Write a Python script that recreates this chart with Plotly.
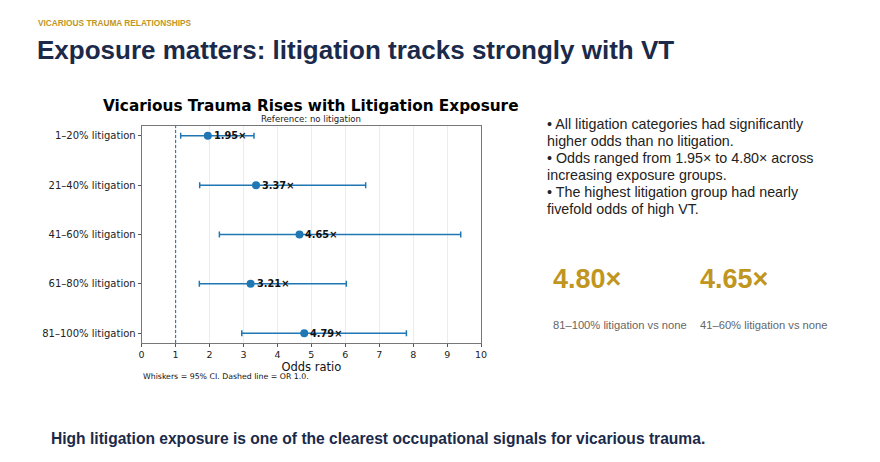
import plotly.graph_objects as go

# forest plot data
groups = ['1–20% litigation', '21–40% litigation', '41–60% litigation',
          '61–80% litigation', '81–100% litigation']
odds = [1.95, 3.37, 4.65, 3.21, 4.79]
ci_low = [1.15, 1.71, 2.29, 1.70, 2.95]
ci_high = [3.31, 6.60, 9.40, 6.03, 7.80]
x_ticks = list(range(0, 11))

bullets = [
    '• All litigation categories had significantly',
    'higher odds than no litigation.',
    '• Odds ranged from 1.95× to 4.80× across',
    'increasing exposure groups.',
    '• The highest litigation group had nearly',
    'fivefold odds of high VT.',
]
kpi_values = ['4.80×', '4.65×']
kpi_labels = ['81–100% litigation vs none', '41–60% litigation vs none']

NAVY = '#1b2a4a'
GOLD = '#c0961f'
BLUE = '#1f77b4'
MPL = 'DejaVu Sans'
ARIAL = 'Liberation Sans, Arial'

# page body adds an 8px margin, so the figure is a bit smaller than the window
W, H, OFF = 872, 454, 8


def px(x):
    return (x - OFF) / W


def py(y):
    return 1 - (y - OFF) / H


fig = go.Figure()

fig.add_trace(go.Scatter(
    x=odds, y=groups, mode='markers',
    marker=dict(color=BLUE, size=8),
    error_x=dict(type='data', symmetric=False,
                 array=[h - o for h, o in zip(ci_high, odds)],
                 arrayminus=[o - l for l, o in zip(ci_low, odds)],
                 color=BLUE, thickness=1.5, width=3),
    showlegend=False, cliponaxis=False,
))

# OR = 1 reference line
fig.add_vline(x=1, line_dash='3px,2px', line_color='#2f7bbf', line_width=1.2)

# value labels next to the points
for g, o in zip(groups, odds):
    fig.add_annotation(x=o, y=g, text=f'<b>{o:.2f}×</b>', showarrow=False,
                       xanchor='left', xshift=4,
                       font=dict(family=MPL, size=9.8, color='#111'))

fig.update_xaxes(
    domain=[px(140), px(483)], range=[0, 10], tickvals=x_ticks,
    showgrid=True, gridcolor='#ececec', gridwidth=1, zeroline=False,
    showline=True, linecolor='#777', mirror=True, linewidth=1,
    ticks='outside', ticklen=3, tickcolor='#555',
    tickfont=dict(family=MPL, size=9.5, color='#222'),
    title=dict(text='Odds ratio', font=dict(family=MPL, size=11.5, color='#111'), standoff=2),
)
fig.update_yaxes(
    domain=[py(343), py(126)], range=[4.2, -0.2],
    categoryorder='array', categoryarray=groups,
    showgrid=False, zeroline=False,
    showline=True, linecolor='#777', mirror=True, linewidth=1,
    ticks='outside', ticklen=3, tickcolor='#555',
    tickfont=dict(family=MPL, size=10, color='#222'),
)

# chart title / subtitle / footnote
fig.add_annotation(x=px(311), y=py(106), xref='paper', yref='paper',
                   text='<b>Vicarious Trauma Rises with Litigation Exposure</b>',
                   showarrow=False, xanchor='center', yanchor='middle',
                   font=dict(family=MPL, size=15.3, color='#000'))
fig.add_annotation(x=px(311), y=py(119.5), xref='paper', yref='paper',
                   text='Reference: no litigation', showarrow=False,
                   xanchor='center', yanchor='middle',
                   font=dict(family=MPL, size=8.6, color='#222'))
fig.add_annotation(x=px(139), y=py(376), xref='paper', yref='paper',
                   text='Whiskers = 95% CI. Dashed line = OR 1.0.', showarrow=False,
                   xanchor='left', yanchor='middle',
                   font=dict(family=MPL, size=7.8, color='#111'))

# slide header
fig.add_annotation(x=px(33), y=py(23), xref='paper', yref='paper',
                   text='<b>VICARIOUS TRAUMA RELATIONSHIPS</b>', showarrow=False,
                   xanchor='left', yanchor='middle',
                   font=dict(family=ARIAL, size=8.3, color=GOLD))
fig.add_annotation(x=px(32), y=py(50), xref='paper', yref='paper',
                   text='<b>Exposure matters: litigation tracks strongly with VT</b>',
                   showarrow=False, xanchor='left', yanchor='middle',
                   font=dict(family=ARIAL, size=26, color=NAVY))

# bullets
for i, line in enumerate(bullets):
    fig.add_annotation(x=px(548), y=py(124 + 17 * i), xref='paper', yref='paper',
                       text=line, showarrow=False, xanchor='left', yanchor='middle',
                       font=dict(family=ARIAL, size=14.3, color='#222'))

# KPI callouts
for i, (v, lab) in enumerate(zip(kpi_values, kpi_labels)):
    x0 = px(554 + 148 * i)
    fig.add_annotation(x=x0, y=py(279), xref='paper', yref='paper',
                       text=f'<b>{v}</b>', showarrow=False, xanchor='left', yanchor='middle',
                       font=dict(family=ARIAL, size=27, color=GOLD))
    fig.add_annotation(x=x0, y=py(325), xref='paper', yref='paper',
                       text=lab, showarrow=False, xanchor='left', yanchor='middle',
                       font=dict(family=ARIAL, size=11.2, color='#666'))

# closing line
fig.add_annotation(x=px(46), y=py(438), xref='paper', yref='paper',
                   text='<b>High litigation exposure is one of the clearest occupational signals for vicarious trauma.</b>',
                   showarrow=False, xanchor='left', yanchor='middle',
                   font=dict(family=ARIAL, size=15.6, color=NAVY))

fig.update_layout(
    width=W, height=H,
    margin=dict(l=0, r=0, t=0, b=0),
    paper_bgcolor='white', plot_bgcolor='white',
)

fig.write_html('out.html')
